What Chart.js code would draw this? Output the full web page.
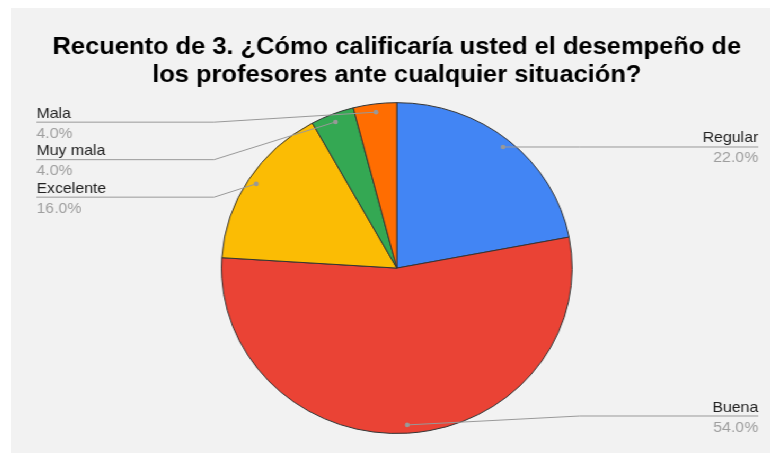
<!DOCTYPE html>
<html>
<head>
<meta charset="UTF-8">
<title>Recuento de 3</title>
<script src="https://cdn.jsdelivr.net/npm/chart.js@4.4.1/dist/chart.umd.min.js"></script>
<style>
body { margin: 0; background: #fff; }
/* la imagen original esta algo estirada en horizontal */
#wrap { position: absolute; left: 11px; top: 8px; width: 716px; height: 445px; background: #f2f2f2; transform: scaleX(1.06); transform-origin: 0 0; }
</style>
</head>
<body>
<div id="wrap"><canvas id="myChart" width="716" height="445"></canvas></div>
<script>
const categorias = ['Regular', 'Buena', 'Excelente', 'Muy mala', 'Mala'];
const porcentajes = [22, 54, 16, 4, 4];
const colores = ['#4285f4', '#ea4335', '#fbbc04', '#34a853', '#ff6d01'];
const titulo = ['Recuento de 3. ¿Cómo calificaría usted el desempeño de', 'los profesores ante cualquier situación?'];

const fuente = '"Liberation Sans", Arial, sans-serif';

// etiquetas con linea guia, estilo hoja de calculo
const etiquetasPlugin = {
    id: 'etiquetas',
    afterDatasetsDraw(chart) {
        const ctx = chart.ctx;
        const area = chart.chartArea;
        const arcs = chart.getDatasetMeta(0).data;
        const total = porcentajes.reduce((a, b) => a + b, 0);
        const izq = [];
        const der = [];

        arcs.forEach((arc, i) => {
            const p = arc.getProps(['x', 'y', 'startAngle', 'endAngle', 'outerRadius'], true);
            const mid = (p.startAngle + p.endAngle) / 2;
            const r = p.outerRadius * 0.95;
            const punto = { i: i, x: p.x + Math.cos(mid) * r, y: p.y + Math.sin(mid) * r, cx: p.x, R: p.outerRadius };
            if (punto.x < p.x) izq.push(punto); else der.push(punto);
        });

        const minY = area.top + 20;
        const maxY = area.bottom - 18;
        const paso = 37.5;

        function apilar(lista) {
            lista.sort((a, b) => a.y - b.y);
            let prev = -Infinity;
            lista.forEach(e => {
                e.ly = Math.max(e.y, prev + paso, minY);
                e.ly = Math.min(e.ly, maxY);
                prev = e.ly;
            });
        }
        apilar(izq);
        apilar(der);

        ctx.save();
        ctx.lineWidth = 1;
        ctx.font = '15px ' + fuente;
        ctx.textBaseline = 'alphabetic';

        function dibujar(e, lado) {
            const quiebre = e.cx + lado * (e.R + 7);
            const fin = lado < 0 ? 24 : 705;
            ctx.strokeStyle = '#999999';
            ctx.beginPath();
            ctx.moveTo(e.x, e.y);
            ctx.lineTo(quiebre, e.ly);
            ctx.lineTo(fin, e.ly);
            ctx.stroke();

            ctx.fillStyle = '#999999';
            ctx.beginPath();
            ctx.arc(e.x, e.y, 2.3, 0, Math.PI * 2);
            ctx.fill();

            ctx.textAlign = lado < 0 ? 'left' : 'right';
            ctx.fillStyle = '#222222';
            ctx.fillText(categorias[e.i], fin, e.ly - 4.5);
            ctx.fillStyle = '#9e9e9e';
            ctx.fillText((porcentajes[e.i] / total * 100).toFixed(1) + '%', fin, e.ly + 15.5);
        }
        izq.forEach(e => dibujar(e, -1));
        der.forEach(e => dibujar(e, 1));
        ctx.restore();
    }
};

const canvas = document.getElementById('myChart');
const myChart = new Chart(canvas, {
    type: 'pie',
    data: {
        labels: categorias,
        datasets: [{
            data: porcentajes,
            backgroundColor: colores,
            borderColor: '#333333',
            borderWidth: 1
        }]
    },
    options: {
        responsive: false,
        animation: false,
        layout: { padding: { left: 12, right: 0, top: 0, bottom: 19 } },
        plugins: {
            legend: { display: false },
            tooltip: { enabled: false },
            title: {
                display: true,
                text: titulo,
                color: '#000000',
                font: { family: fuente, size: 24, weight: 'bold', lineHeight: 1.17 },
                padding: { top: 25, bottom: 13 }
            }
        }
    },
    plugins: [etiquetasPlugin]
});
</script>
</body>
</html>
